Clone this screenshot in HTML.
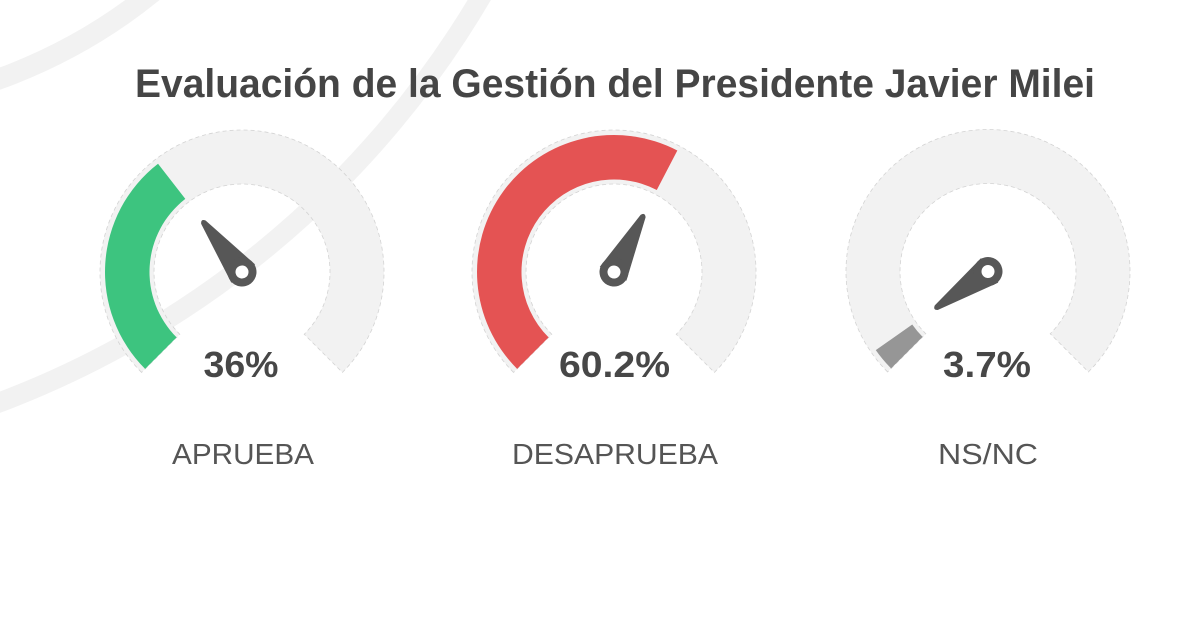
<!DOCTYPE html>
<html>
<head>
<meta charset="utf-8">
<style>
  html, body { margin: 0; padding: 0; background: #ffffff; }
  body { width: 1200px; height: 620px; overflow: hidden; }
  svg { display: block; }
  .title { font-family: "Liberation Sans", Arial, sans-serif; font-weight: bold; font-size: 40px; fill: #454545; }
  .pct { font-family: "Liberation Sans", Arial, sans-serif; font-weight: bold; font-size: 36px; fill: #474747; }
  .lbl { font-family: "Liberation Sans", Arial, sans-serif; font-weight: normal; font-size: 29px; fill: #555555; }
</style>
</head>
<body>
<svg width="1200" height="620" viewBox="0 0 1200 620" xmlns="http://www.w3.org/2000/svg">
  <defs>
    <g id="needle">
      <path d="M -15 2 L -2.8 -63 Q 0 -67.5 2.8 -63 L 15 2 Z" fill="#575757"/>
      <circle cx="0" cy="0" r="14.5" fill="#575757"/>
      <circle cx="0" cy="0" r="6.5" fill="#ffffff"/>
    </g>
  </defs>
  <rect x="0" y="0" width="1200" height="620" fill="#ffffff"/>

  <!-- decorative background arcs -->
  <circle cx="-183" cy="-422" r="533" fill="none" stroke="#f2f2f2" stroke-width="21"/>
  <circle cx="-337" cy="-486" r="950" fill="none" stroke="#f2f2f2" stroke-width="20"/>

  <!-- Title -->
  <text class="title" x="615" y="97" text-anchor="middle" textLength="960" lengthAdjust="spacingAndGlyphs">Evaluación de la Gestión del Presidente Javier Milei</text>

  <!-- Gauge 1 -->
  <g transform="translate(242,272)">
    <path d="M -100.41 100.41 A 142 142 0 1 1 100.41 100.41 L 62.23 62.23 A 88 88 0 1 0 -62.23 62.23 Z" fill="#f2f2f2" stroke="#d3d3d3" stroke-width="0.8" stroke-dasharray="4 3"/>
    <path d="M -96.87 96.87 A 137 137 0 0 1 -83.97 -108.25 L -56.69 -73.09 A 92.5 92.5 0 0 0 -65.41 65.41 Z" fill="#3dc47f"/>
    <g transform="rotate(-37.8)"><use href="#needle"/></g>
  </g>

  <!-- Gauge 2 -->
  <g transform="translate(614,272)">
    <path d="M -100.41 100.41 A 142 142 0 1 1 100.41 100.41 L 62.23 62.23 A 88 88 0 1 0 -62.23 62.23 Z" fill="#f2f2f2" stroke="#d3d3d3" stroke-width="0.8" stroke-dasharray="4 3"/>
    <path d="M -96.87 96.87 A 137 137 0 0 1 63.34 -121.48 L 42.77 -82.02 A 92.5 92.5 0 0 0 -65.41 65.41 Z" fill="#e45353"/>
    <g transform="rotate(27.5)"><use href="#needle"/></g>
  </g>

  <!-- Gauge 3 -->
  <g transform="translate(988,271.5)">
    <path d="M -100.41 100.41 A 142 142 0 1 1 100.41 100.41 L 62.23 62.23 A 88 88 0 1 0 -62.23 62.23 Z" fill="#f2f2f2" stroke="#d3d3d3" stroke-width="0.8" stroke-dasharray="4 3"/>
    <path d="M -96.87 96.87 A 137 137 0 0 1 -112.22 78.58 L -75.77 53.06 A 92.5 92.5 0 0 0 -65.41 65.41 Z" fill="#969696"/>
    <g transform="rotate(-125)"><use href="#needle"/></g>
  </g>

  <!-- Percent values -->
  <text class="pct" x="241" y="377" text-anchor="middle" textLength="75" lengthAdjust="spacingAndGlyphs">36%</text>
  <text class="pct" x="614.5" y="377" text-anchor="middle" textLength="111" lengthAdjust="spacingAndGlyphs">60.2%</text>
  <text class="pct" x="987" y="377" text-anchor="middle" textLength="88" lengthAdjust="spacingAndGlyphs">3.7%</text>

  <!-- Labels -->
  <text class="lbl" x="243" y="464" text-anchor="middle" textLength="142" lengthAdjust="spacingAndGlyphs">APRUEBA</text>
  <text class="lbl" x="615" y="464" text-anchor="middle" textLength="206" lengthAdjust="spacingAndGlyphs">DESAPRUEBA</text>
  <text class="lbl" x="988" y="464" text-anchor="middle" textLength="100" lengthAdjust="spacingAndGlyphs">NS/NC</text>
</svg>
</body>
</html>
